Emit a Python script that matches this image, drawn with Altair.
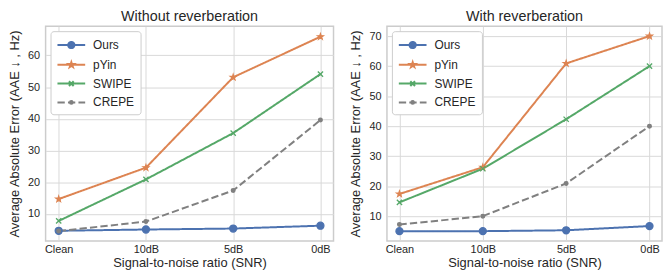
import altair as alt
import pandas as pd

# ---------------- data ----------------
snr = ["Clean", "10dB", "5dB", "0dB"]
series = ["Ours", "pYin", "SWIPE", "CREPE"]
colors = ["#4c72b0", "#dd8452", "#55a868", "#808080"]

no_rev_ours = [4.7, 5.1, 5.4, 6.3]
no_rev_pyin = [14.7, 24.6, 53.1, 65.9]
no_rev_swipe = [7.8, 20.9, 35.5, 54.1]
no_rev_crepe = [4.6, 7.6, 17.4, 39.6]

rev_ours = [5.0, 5.0, 5.3, 6.7]
rev_pyin = [17.4, 26.3, 60.9, 70.0]
rev_swipe = [14.6, 25.8, 42.3, 60.0]
rev_crepe = [7.2, 10.0, 20.9, 40.0]

left_ticks = [10, 20, 30, 40, 50, 60]
right_ticks = [10, 20, 30, 40, 50, 60, 70]

FONT = "Liberation Sans, DejaVu Sans"
TXT = "#262626"

# marker paths
STAR = ("M0,-1L0.225,-0.309L0.951,-0.309L0.363,0.118L0.588,0.809L0,0.382"
        "L-0.588,0.809L-0.363,0.118L-0.951,-0.309L-0.225,-0.309Z")
XMARK = "M-1,-1L1,1M-1,1L1,-1"
point_shapes = ["circle", STAR, XMARK, "circle"]
point_sizes = [50, 34, 28, 14]


def circ(cx, r):
    return f"M{cx + r},0A{r},{r},0,1,1,{cx - r},0A{r},{r},0,1,1,{cx + r},0Z"


def star(cx, r):
    pts = [(0, -1), (0.225, -0.309), (0.951, -0.309), (0.363, 0.118), (0.588, 0.809),
           (0, 0.382), (-0.588, 0.809), (-0.363, 0.118), (-0.951, -0.309), (-0.225, -0.309)]
    return "M" + "L".join(f"{cx + px * r:.3f},{py * r:.3f}" for px, py in pts) + "Z"


# legend symbols: line + marker (unit = 7px, line from -1 to 3)
LINE = "M-1,0L3,0"
leg_paths = [
    LINE + circ(1, 0.45),
    LINE + star(1, 0.38),
    LINE + f"M{1 - 0.34},-0.34L{1 + 0.34},0.34M{1 - 0.34},0.34L{1 + 0.34},-0.34",
    LINE + circ(1, 0.2),
]
dash_range = [[1, 0], [1, 0], [1, 0], [7.4, 3.2]]


def make_df(vals):
    rows = []
    for s, v in zip(series, vals):
        for k, xv in enumerate(snr):
            rows.append({"snr": xv, "series": s, "value": v[k]})
    return pd.DataFrame(rows)


def panel(title, vals, domain, ticks, width):
    df = make_df(vals)
    base = alt.Chart(df)
    x = alt.X("snr:N", sort=snr, scale=alt.Scale(type="point", padding=0.15),
              axis=alt.Axis(labelAngle=0, title="Signal-to-noise ratio (SNR)", grid=True,
                            ticks=False, labelPadding=3, titlePadding=2))
    y = alt.Y("value:Q", scale=alt.Scale(domain=domain, nice=False, zero=False),
              axis=alt.Axis(values=ticks, title="Average Absolute Error (AAE ↓ , Hz)",
                            ticks=False, labelPadding=6, titlePadding=6))
    color_scale = alt.Scale(domain=series, range=colors)
    leg = alt.Legend(
        title=None, orient="top-left", offset=5, symbolSize=196, symbolStrokeWidth=2,
        labelFontSize=12, labelFont=FONT, labelColor=TXT, labelOffset=21, rowPadding=4,
        padding=6, fillColor="white", strokeColor="#cccccc", cornerRadius=3,
        symbolOpacity=1,
    )
    legend_layer = base.mark_point(opacity=1, strokeWidth=2, size=0.5).encode(
        x=x, y=y,
        fill=alt.Fill("series:N", sort=series, scale=color_scale, legend=leg),
        stroke=alt.Stroke("series:N", sort=series, scale=color_scale, legend=leg),
        shape=alt.Shape("series:N", sort=series,
                        scale=alt.Scale(domain=series, range=leg_paths), legend=leg),
        strokeDash=alt.StrokeDash("series:N", sort=series,
                                  scale=alt.Scale(domain=series, range=dash_range),
                                  legend=leg),
    )
    line = base.mark_line(strokeWidth=2).encode(
        x=x, y=y,
        stroke=alt.Stroke("series:N", sort=series, scale=color_scale, legend=None),
        strokeDash=alt.StrokeDash("series:N", sort=series,
                                  scale=alt.Scale(domain=series, range=dash_range),
                                  legend=None),
    )
    layers = [legend_layer, line]
    for s, c, shp, sz in zip(series, colors, point_shapes, point_sizes):
        layers.append(
            base.transform_filter(alt.datum.series == s).mark_point(
                filled=True, opacity=1, strokeWidth=1.3, fill=c, stroke=c,
                shape=shp, size=sz,
            ).encode(x=x, y=y)
        )
    return alt.layer(*layers).properties(
        width=width, height=217,
        title=alt.TitleParams(title, fontSize=14.5, fontWeight="normal", font=FONT,
                              color=TXT, offset=2),
    )


left = panel("Without reverberation",
             [no_rev_ours, no_rev_pyin, no_rev_swipe, no_rev_crepe], [1.5, 69.2],
             left_ticks, 291)
right = panel("With reverberation",
              [rev_ours, rev_pyin, rev_swipe, rev_crepe], [1.75, 73.3], right_ticks, 278)

ind = "independent"
chart = alt.hconcat(left, right, spacing=15).resolve_scale(
    fill=ind, stroke=ind, shape=ind, strokeDash=ind
).resolve_legend(
    fill=ind, stroke=ind, shape=ind, strokeDash=ind
).properties(
    padding={"left": 0, "top": -2, "right": 0, "bottom": 0}, background="white"
).configure_view(
    stroke="#cccccc", strokeWidth=1.5
).configure_axis(
    labelFont=FONT, titleFont=FONT, labelFontSize=11, titleFontSize=13,
    labelColor=TXT, titleColor=TXT, titleFontWeight="normal",
    gridColor="#d9d9d9", gridWidth=1, domain=False,
)

chart.save("out.html", embed_options={"renderer": "svg", "actions": False})
